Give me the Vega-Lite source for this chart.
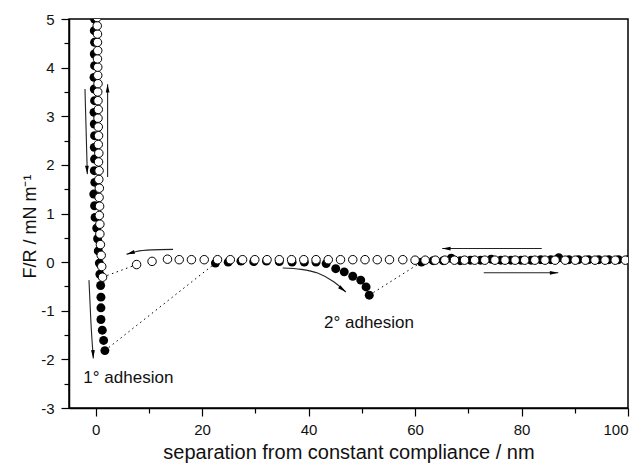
{
  "$schema": "https://vega.github.io/schema/vega-lite/v6.json",
  "width": 559,
  "height": 389,
  "autosize": {"type": "none"},
  "padding": {"left": 69, "top": 19, "right": 13, "bottom": 57},
  "background": "white",
  "config": {"view": {"stroke": "black", "strokeWidth": 1.5}, "font": "Liberation Sans"},
  "datasets": {
    "pts": [
      {"s": "filled", "x": -0.2, "y": 5.0}, {"s": "filled", "x": -0.25, "y": 4.76}, {"s": "filled", "x": -0.2, "y": 4.52},
      {"s": "filled", "x": -0.25, "y": 4.28}, {"s": "filled", "x": -0.2, "y": 4.04}, {"s": "filled", "x": -0.3, "y": 3.8},
      {"s": "filled", "x": -0.25, "y": 3.56}, {"s": "filled", "x": -0.2, "y": 3.32}, {"s": "filled", "x": -0.3, "y": 3.08},
      {"s": "filled", "x": -0.25, "y": 2.84}, {"s": "filled", "x": -0.2, "y": 2.6}, {"s": "filled", "x": -0.25, "y": 2.36},
      {"s": "filled", "x": -0.2, "y": 2.12}, {"s": "filled", "x": -0.25, "y": 1.88}, {"s": "filled", "x": -0.15, "y": 1.64},
      {"s": "filled", "x": -0.35, "y": 1.4}, {"s": "filled", "x": -0.2, "y": 1.16}, {"s": "filled", "x": -0.1, "y": 0.92},
      {"s": "filled", "x": 0.2, "y": 0.7}, {"s": "filled", "x": 0.37, "y": 0.48}, {"s": "filled", "x": 0.5, "y": 0.23},
      {"s": "filled", "x": 0.7, "y": -0.02}, {"s": "filled", "x": 0.8, "y": -0.25}, {"s": "filled", "x": 0.94, "y": -0.48},
      {"s": "filled", "x": 1.0, "y": -0.72}, {"s": "filled", "x": 1.0, "y": -0.94}, {"s": "filled", "x": 1.0, "y": -1.18},
      {"s": "filled", "x": 1.25, "y": -1.4}, {"s": "filled", "x": 1.5, "y": -1.61}, {"s": "filled", "x": 1.74, "y": -1.82},
      {"s": "filled", "x": 22.5, "y": -0.02}, {"s": "filled", "x": 24.9, "y": 0.0}, {"s": "filled", "x": 27.3, "y": 0.02},
      {"s": "filled", "x": 29.7, "y": 0.01}, {"s": "filled", "x": 32.1, "y": 0.02}, {"s": "filled", "x": 34.5, "y": 0.01},
      {"s": "filled", "x": 36.9, "y": 0.0}, {"s": "filled", "x": 39.2, "y": 0.0}, {"s": "filled", "x": 41.4, "y": 0.0},
      {"s": "filled", "x": 43.3, "y": -0.03}, {"s": "filled", "x": 45.1, "y": -0.135}, {"s": "filled", "x": 46.7, "y": -0.2},
      {"s": "filled", "x": 48.3, "y": -0.29}, {"s": "filled", "x": 49.8, "y": -0.37}, {"s": "filled", "x": 50.8, "y": -0.51},
      {"s": "filled", "x": 51.4, "y": -0.68},
      {"s": "filled", "x": 61.2, "y": 0.0}, {"s": "filled", "x": 63.4, "y": 0.03}, {"s": "filled", "x": 65.3, "y": 0.03},
      {"s": "filled", "x": 66.8, "y": 0.08}, {"s": "filled", "x": 68.5, "y": 0.03}, {"s": "filled", "x": 70.4, "y": 0.04},
      {"s": "filled", "x": 72.3, "y": 0.04}, {"s": "filled", "x": 74.3, "y": 0.06}, {"s": "filled", "x": 76.1, "y": 0.04},
      {"s": "filled", "x": 78.0, "y": 0.04}, {"s": "filled", "x": 79.9, "y": 0.04}, {"s": "filled", "x": 81.8, "y": 0.04},
      {"s": "filled", "x": 83.6, "y": 0.05}, {"s": "filled", "x": 85.5, "y": 0.05}, {"s": "filled", "x": 87.0, "y": 0.09},
      {"s": "filled", "x": 88.9, "y": 0.05}, {"s": "filled", "x": 90.7, "y": 0.05}, {"s": "filled", "x": 92.6, "y": 0.05},
      {"s": "filled", "x": 94.5, "y": 0.05}, {"s": "filled", "x": 96.4, "y": 0.05}, {"s": "filled", "x": 98.2, "y": 0.05},
      {"s": "filled", "x": 100.0, "y": 0.05},
      {"s": "open", "x": 1.3, "y": -0.31}, {"s": "open", "x": 1.15, "y": -0.09}, {"s": "open", "x": 1.05, "y": 0.14},
      {"s": "open", "x": 0.9, "y": 0.36}, {"s": "open", "x": 0.8, "y": 0.58}, {"s": "open", "x": 0.8, "y": 0.78},
      {"s": "open", "x": 0.7, "y": 0.96}, {"s": "open", "x": 0.75, "y": 1.15}, {"s": "open", "x": 0.65, "y": 1.33},
      {"s": "open", "x": 0.7, "y": 1.52}, {"s": "open", "x": 0.6, "y": 1.7}, {"s": "open", "x": 0.65, "y": 1.88},
      {"s": "open", "x": 0.55, "y": 2.06}, {"s": "open", "x": 0.6, "y": 2.24}, {"s": "open", "x": 0.5, "y": 2.42},
      {"s": "open", "x": 0.55, "y": 2.6}, {"s": "open", "x": 0.5, "y": 2.78}, {"s": "open", "x": 0.45, "y": 2.96},
      {"s": "open", "x": 0.5, "y": 3.14}, {"s": "open", "x": 0.45, "y": 3.32}, {"s": "open", "x": 0.4, "y": 3.5},
      {"s": "open", "x": 0.45, "y": 3.67}, {"s": "open", "x": 0.4, "y": 3.84}, {"s": "open", "x": 0.4, "y": 4.01},
      {"s": "open", "x": 0.35, "y": 4.18}, {"s": "open", "x": 0.4, "y": 4.35}, {"s": "open", "x": 0.35, "y": 4.52},
      {"s": "open", "x": 0.35, "y": 4.69}, {"s": "open", "x": 0.3, "y": 4.86}, {"s": "open", "x": 0.3, "y": 5.03},
      {"s": "open", "x": 7.7, "y": -0.05}, {"s": "open", "x": 10.6, "y": 0.015}, {"s": "open", "x": 13.5, "y": 0.06},
      {"s": "open", "x": 15.7, "y": 0.05}, {"s": "open", "x": 18.0, "y": 0.05}, {"s": "open", "x": 20.4, "y": 0.05},
      {"s": "open", "x": 22.9, "y": 0.05}, {"s": "open", "x": 25.3, "y": 0.05}, {"s": "open", "x": 27.6, "y": 0.05},
      {"s": "open", "x": 29.9, "y": 0.05}, {"s": "open", "x": 32.2, "y": 0.05}, {"s": "open", "x": 34.5, "y": 0.05},
      {"s": "open", "x": 36.8, "y": 0.05}, {"s": "open", "x": 39.1, "y": 0.05}, {"s": "open", "x": 41.4, "y": 0.05},
      {"s": "open", "x": 43.7, "y": 0.05}, {"s": "open", "x": 46.0, "y": 0.05}, {"s": "open", "x": 48.3, "y": 0.05},
      {"s": "open", "x": 50.6, "y": 0.05}, {"s": "open", "x": 52.9, "y": 0.05}, {"s": "open", "x": 55.2, "y": 0.05},
      {"s": "open", "x": 57.7, "y": 0.05}, {"s": "open", "x": 60.0, "y": 0.04}, {"s": "open", "x": 61.9, "y": 0.04},
      {"s": "open", "x": 63.8, "y": 0.04}, {"s": "open", "x": 65.6, "y": 0.04}, {"s": "open", "x": 67.4, "y": 0.04},
      {"s": "open", "x": 69.3, "y": 0.04}, {"s": "open", "x": 71.2, "y": 0.04}, {"s": "open", "x": 73.1, "y": 0.04},
      {"s": "open", "x": 75.0, "y": 0.04}, {"s": "open", "x": 76.9, "y": 0.04}, {"s": "open", "x": 78.8, "y": 0.04},
      {"s": "open", "x": 80.6, "y": 0.04}, {"s": "open", "x": 82.5, "y": 0.04}, {"s": "open", "x": 84.4, "y": 0.04},
      {"s": "open", "x": 86.3, "y": 0.04}, {"s": "open", "x": 88.2, "y": 0.04}, {"s": "open", "x": 90.1, "y": 0.04},
      {"s": "open", "x": 92.0, "y": 0.04}, {"s": "open", "x": 93.8, "y": 0.04}, {"s": "open", "x": 95.7, "y": 0.04},
      {"s": "open", "x": 97.6, "y": 0.04}, {"s": "open", "x": 99.5, "y": 0.04}
    ],
    "jumps": [
      {"seg": "A", "o": 1, "x": 1.74, "y": -1.82}, {"seg": "A", "o": 2, "x": 22.5, "y": -0.02},
      {"seg": "B", "o": 1, "x": 51.4, "y": -0.68}, {"seg": "B", "o": 2, "x": 61.2, "y": 0.0},
      {"seg": "C", "o": 1, "x": 1.3, "y": -0.31}, {"seg": "C", "o": 2, "x": 7.7, "y": -0.05}
    ],
    "arrows": [
      {"a": "a1", "o": 1, "x": -2.0, "y": 3.56}, {"a": "a1", "o": 2, "x": -1.56, "y": 1.81},
      {"a": "a2", "o": 1, "x": 2.25, "y": 1.75}, {"a": "a2", "o": 2, "x": 2.25, "y": 3.66},
      {"a": "a3", "o": 1, "x": -1.25, "y": -0.37}, {"a": "a3", "o": 2, "x": -0.9, "y": -1.2}, {"a": "a3", "o": 3, "x": -0.43, "y": -1.98},
      {"a": "a4", "o": 1, "x": 14.55, "y": 0.262}, {"a": "a4", "o": 2, "x": 10.49, "y": 0.251}, {"a": "a4", "o": 3, "x": 7.68, "y": 0.22}, {"a": "a4", "o": 4, "x": 5.8, "y": 0.16},
      {"a": "a5", "o": 1, "x": 35.15, "y": -0.122}, {"a": "a5", "o": 2, "x": 38.6, "y": -0.149}, {"a": "a5", "o": 3, "x": 41.7, "y": -0.225}, {"a": "a5", "o": 4, "x": 44.8, "y": -0.41}, {"a": "a5", "o": 5, "x": 47.0, "y": -0.614},
      {"a": "a6", "o": 1, "x": 83.8, "y": 0.28}, {"a": "a6", "o": 2, "x": 65.1, "y": 0.28},
      {"a": "a7", "o": 1, "x": 72.9, "y": -0.22}, {"a": "a7", "o": 2, "x": 86.9, "y": -0.22}
    ],
    "heads": [
      {"dir": "down", "x": -1.56, "y": 1.81},
      {"dir": "up", "x": 2.25, "y": 3.66},
      {"dir": "down", "x": -0.43, "y": -1.98},
      {"dir": "leftdown", "x": 5.8, "y": 0.16},
      {"dir": "rightdown", "x": 47.0, "y": -0.614},
      {"dir": "left", "x": 65.1, "y": 0.28},
      {"dir": "right", "x": 86.9, "y": -0.22}
    ],
    "labels": [
      {"x": -2.3, "y": -2.487, "t": "1° adhesion"},
      {"x": 42.9, "y": -1.359, "t": "2° adhesion"}
    ]
  },
  "encoding": {
    "x": {
      "field": "x", "type": "quantitative",
      "scale": {"domain": [-5, 100], "nice": false, "zero": false},
      "axis": {
        "values": [0, 10, 20, 30, 40, 50, 60, 70, 80, 90, 100],
        "labelExpr": "datum.value % 20 === 0 ? '' + datum.value : ''",
        "tickSize": {"condition": {"test": "datum.value % 20 !== 0", "value": 5}, "value": 8},
        "tickColor": "black", "tickWidth": 1.2,
        "domainColor": "black", "domainWidth": 1.5,
        "grid": false,
        "labelFont": "Liberation Sans", "labelFontSize": 15, "labelColor": "#111",
        "labelPadding": 6,
        "title": "separation from constant compliance / nm",
        "titleFont": "Liberation Sans", "titleFontSize": 20, "titleFontWeight": "normal", "titleColor": "#111",
        "titleBaseline": "alphabetic", "titleY": 50
      }
    },
    "y": {
      "field": "y", "type": "quantitative",
      "scale": {"domain": [-3, 5], "nice": false, "zero": false},
      "axis": {
        "values": [-3, -2.5, -2, -1.5, -1, -0.5, 0, 0.5, 1, 1.5, 2, 2.5, 3, 3.5, 4, 4.5, 5],
        "labelExpr": "datum.value % 1 === 0 ? '' + datum.value : ''",
        "tickSize": {"condition": {"test": "datum.value % 1 !== 0", "value": 5}, "value": 8},
        "tickColor": "black", "tickWidth": 1.2,
        "domainColor": "black", "domainWidth": 1.5,
        "grid": false,
        "labelFont": "Liberation Sans", "labelFontSize": 15, "labelColor": "#111",
        "labelPadding": 7,
        "title": "F/R / mN m⁻¹",
        "titleFont": "Liberation Sans", "titleFontSize": 18, "titleFontWeight": "normal", "titleColor": "#111",
        "titleBaseline": "alphabetic", "titleX": -34, "titleY": 259, "titleAlign": "left", "titleAngle": 270
      }
    }
  },
  "layer": [
    {
      "data": {"name": "jumps"},
      "mark": {"type": "line", "color": "black", "strokeWidth": 1, "strokeDash": [1.5, 3.5]},
      "encoding": {"detail": {"field": "seg"}, "order": {"field": "o"}}
    },
    {
      "data": {"name": "arrows"},
      "mark": {"type": "line", "color": "#222", "strokeWidth": 1.1, "interpolate": "monotone"},
      "encoding": {"detail": {"field": "a"}, "order": {"field": "o"}}
    },
    {
      "data": {"name": "heads"},
      "transform": [{"filter": "datum.dir === 'up'"}],
      "mark": {"type": "point", "shape": "M0,0L-0.45,2L0.45,2Z", "filled": true, "color": "black", "size": 70, "opacity": 1, "angle": 0}
    },
    {
      "data": {"name": "heads"},
      "transform": [{"filter": "datum.dir === 'down'"}],
      "mark": {"type": "point", "shape": "M0,0L-0.45,2L0.45,2Z", "filled": true, "color": "black", "size": 70, "opacity": 1, "angle": 177}
    },
    {
      "data": {"name": "heads"},
      "transform": [{"filter": "datum.dir === 'left'"}],
      "mark": {"type": "point", "shape": "M0,0L-0.45,2L0.45,2Z", "filled": true, "color": "black", "size": 70, "opacity": 1, "angle": 270}
    },
    {
      "data": {"name": "heads"},
      "transform": [{"filter": "datum.dir === 'right'"}],
      "mark": {"type": "point", "shape": "M0,0L-0.45,2L0.45,2Z", "filled": true, "color": "black", "size": 70, "opacity": 1, "angle": 90}
    },
    {
      "data": {"name": "heads"},
      "transform": [{"filter": "datum.dir === 'leftdown'"}],
      "mark": {"type": "point", "shape": "M0,0L-0.45,2L0.45,2Z", "filled": true, "color": "black", "size": 70, "opacity": 1, "angle": 253}
    },
    {
      "data": {"name": "heads"},
      "transform": [{"filter": "datum.dir === 'rightdown'"}],
      "mark": {"type": "point", "shape": "M0,0L-0.45,2L0.45,2Z", "filled": true, "color": "black", "size": 70, "opacity": 1, "angle": 128}
    },
    {
      "data": {"name": "pts"},
      "transform": [{"filter": "datum.s === 'filled'"}],
      "mark": {"type": "point", "shape": "circle", "filled": true, "color": "black", "size": 80, "opacity": 1, "clip": true}
    },
    {
      "data": {"name": "pts"},
      "transform": [{"filter": "datum.s === 'open'"}],
      "mark": {"type": "point", "shape": "circle", "fill": "white", "stroke": "black", "strokeWidth": 1, "size": 72, "opacity": 1, "fillOpacity": 1, "clip": true}
    },
    {
      "data": {"name": "labels"},
      "mark": {"type": "text", "align": "left", "baseline": "alphabetic", "font": "Liberation Sans", "fontSize": 17, "color": "#111"},
      "encoding": {"text": {"field": "t"}}
    }
  ]
}
